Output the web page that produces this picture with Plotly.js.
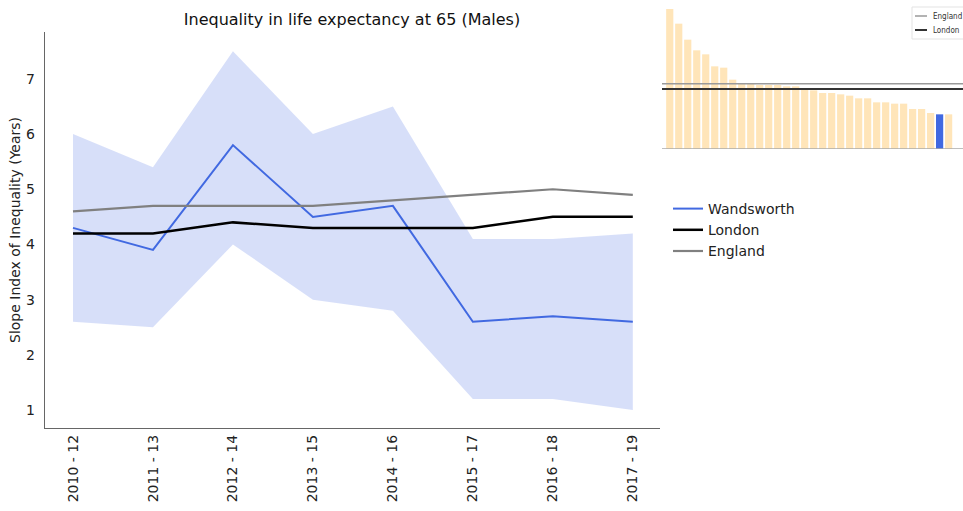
<!DOCTYPE html>
<html>
<head>
<meta charset="utf-8">
<script src="https://cdn.plot.ly/plotly-3.0.1.min.js"></script>
<style>html,body{margin:0;padding:0;background:#fff;}#chart{width:963px;height:511px;}</style>
</head>
<body>
<div id="chart"></div>
<script>
// ---- data ----
var periods = ["2010 - 12","2011 - 13","2012 - 14","2013 - 15","2014 - 16","2015 - 17","2016 - 18","2017 - 19"];
var wandsworth = [4.3, 3.9, 5.8, 4.5, 4.7, 2.6, 2.7, 2.6];
var wandsworthUpper = [6.0, 5.4, 7.5, 6.0, 6.5, 4.1, 4.1, 4.2];
var wandsworthLower = [2.6, 2.5, 4.0, 3.0, 2.8, 1.2, 1.2, 1.0];
var london = [4.2, 4.2, 4.4, 4.3, 4.3, 4.3, 4.5, 4.5];
var england = [4.6, 4.7, 4.7, 4.7, 4.8, 4.9, 5.0, 4.9];

// latest-period borough values, sorted high to low (inset)
var boroughValues = [10.5, 9.4, 8.2, 7.4, 7.1, 6.2, 6.1, 5.2, 4.9, 4.9, 4.8, 4.8, 4.8, 4.7, 4.7, 4.5,
                     4.4, 4.2, 4.2, 4.1, 4.0, 3.8, 3.8, 3.5, 3.5, 3.4, 3.4, 3.0, 3.0, 2.7, 2.6, 2.6];
var highlightIndex = 30; // Wandsworth
var insetLegendNames = ["England", "London"];

// ---- styles ----
var W = 963, H = 511;
var font = "DejaVu Sans, Verdana, sans-serif";
var condensed = "DejaVu Sans Condensed, Liberation Sans Narrow, DejaVu Sans";
var blue = "#4169e1";
var barColor = "rgba(255,228,181,0.95)";
var englandInset = "#9a9a9a", londonInset = "#333333";

var idx = periods.map(function(_, i){ return i; });
var bIdx = boroughValues.map(function(_, i){ return i; });
var barColors = boroughValues.map(function(_, i){ return i === highlightIndex ? blue : barColor; });

var x2range = [-0.86, boroughValues.length + 0.6];
var last = periods.length - 1;

var traces = [
  {x: idx, y: wandsworthLower, mode: "lines", line: {width: 0, color: "rgba(0,0,0,0)"},
   showlegend: false, hoverinfo: "skip", xaxis: "x", yaxis: "y"},
  {x: idx, y: wandsworthUpper, mode: "lines", line: {width: 0, color: "rgba(0,0,0,0)"},
   fill: "tonexty", fillcolor: "rgba(65,105,225,0.21)", showlegend: false, hoverinfo: "skip", xaxis: "x", yaxis: "y"},
  {x: idx, y: wandsworth, mode: "lines", name: "Wandsworth", line: {color: blue, width: 2}, xaxis: "x", yaxis: "y"},
  {x: idx, y: london, mode: "lines", name: "London", line: {color: "#000000", width: 2.5}, xaxis: "x", yaxis: "y"},
  {x: idx, y: england, mode: "lines", name: "England", line: {color: "#808080", width: 2.2}, xaxis: "x", yaxis: "y"},
  // inset
  {type: "bar", x: bIdx, y: boroughValues, marker: {color: barColors, line: {width: 0}}, width: 0.8,
   showlegend: false, xaxis: "x2", yaxis: "y2"},
  {x: x2range, y: [england[last], england[last]], mode: "lines", name: "England", showlegend: false,
   line: {color: englandInset, width: 1.5}, xaxis: "x2", yaxis: "y2"},
  {x: x2range, y: [london[last], london[last]], mode: "lines", name: "London", showlegend: false,
   line: {color: londonInset, width: 2}, xaxis: "x2", yaxis: "y2"}
];

// hand-built compact inset legend
var lgX0 = 912 / W, lgX1 = 1, lgY0 = 1 - 39 / H, lgY1 = 1 - 7 / H;
var lgRows = [1 - 16 / H, 1 - 30 / H];
var lgColors = [englandInset, londonInset];
var lgWidths = [1.5, 2];
var shapes = [
  {type: "line", xref: "x2 domain", yref: "y2", x0: 0, x1: 1, y0: 0, y1: 0, line: {color: "#aaaaaa", width: 1.5}},
  {type: "rect", xref: "paper", yref: "paper", x0: lgX0, x1: lgX1 + 0.01, y0: lgY0, y1: lgY1,
   fillcolor: "#ffffff", line: {color: "#e3e3e3", width: 1}}
];
var annotations = [
  {text: "Slope Index of Inequality (Years)", xref: "paper", yref: "paper", x: 15 / W, y: 1 - 230 / H,
   textangle: -90, showarrow: false, font: {family: font, size: 14, color: "#222"}, xanchor: "center", yanchor: "middle"}
];
insetLegendNames.forEach(function(name, i){
  shapes.push({type: "line", xref: "paper", yref: "paper", x0: 915 / W, x1: 927 / W, y0: lgRows[i], y1: lgRows[i],
               line: {color: lgColors[i], width: lgWidths[i]}});
  annotations.push({text: name, xref: "paper", yref: "paper", x: 931 / W, y: lgRows[i], xanchor: "left", yanchor: "middle",
                    showarrow: false, font: {family: condensed, size: 8, color: "#333"}});
});

var layout = {
  width: W, height: H,
  margin: {l: 0, r: 0, t: 0, b: 0},
  paper_bgcolor: "#ffffff", plot_bgcolor: "#ffffff",
  font: {family: font, size: 14, color: "#222"},
  title: {text: "Inequality in life expectancy at 65 (Males)", font: {family: font, size: 16, color: "#111"},
          x: 352 / W, xanchor: "center", y: 1 - 19 / H, yanchor: "middle"},
  xaxis: {domain: [45 / W, 660 / W], range: [-0.35, 7.34], tickmode: "array", tickvals: idx, ticktext: periods,
          tickangle: -90, showgrid: false, zeroline: false, showline: true, linecolor: "#666", linewidth: 1.3,
          ticks: "", tickfont: {size: 14, color: "#222"}},
  yaxis: {domain: [(H - 428) / H, (H - 32) / H], range: [0.674, 7.85], tickvals: [1,2,3,4,5,6,7],
          showgrid: false, zeroline: false, showline: true, linecolor: "#666", linewidth: 1.3,
          ticks: "outside", ticklen: 6, tickcolor: "rgba(0,0,0,0)", tickfont: {size: 14, color: "#222"}},
  xaxis2: {domain: [662 / W, 1], range: x2range, anchor: "y2", showgrid: false, zeroline: false,
           showline: false, showticklabels: false, ticks: ""},
  yaxis2: {domain: [(H - 149) / H, (H - 5) / H], range: [0, 10.8], anchor: "x2", showgrid: false,
           zeroline: false, showline: false, showticklabels: false, ticks: ""},
  shapes: shapes,
  annotations: annotations,
  showlegend: true,
  legend: {x: 668 / W, y: 1 - 193 / H, xanchor: "left", yanchor: "top", bgcolor: "rgba(255,255,255,0)",
           traceorder: "normal", font: {size: 14, color: "#222"}, tracegroupgap: 0, itemwidth: 30}
};

Plotly.newPlot("chart", traces, layout, {displayModeBar: false, staticPlot: true});
</script>
</body>
</html>
